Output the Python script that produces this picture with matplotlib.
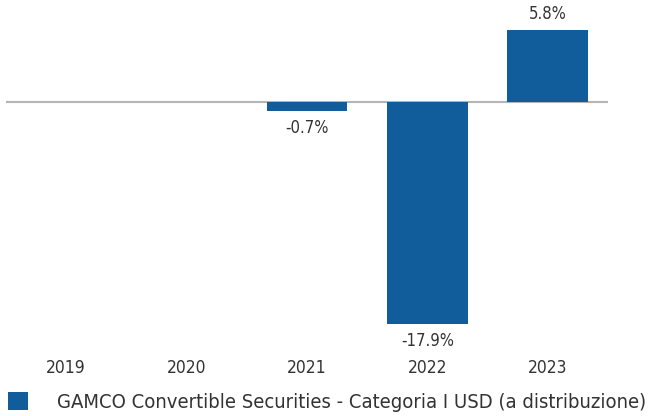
import matplotlib
matplotlib.use('Agg')
import matplotlib.pyplot as plt

years = ['2019', '2020', '2021', '2022', '2023']
returns = [None, None, -0.7, -17.9, 5.8]
labels = ['', '', '-0.7%', '-17.9%', '5.8%']
seriesName = 'GAMCO Convertible Securities - Categoria I USD (a distribuzione)'

barColor = '#115d9b'
textColor = '#333333'

plt.rcParams['font.family'] = ['DejaVu Sans']
plt.rcParams['font.stretch'] = 'condensed'

W, H = 649, 416
fig = plt.figure(figsize=(W/100, H/100), dpi=100)
ax = fig.add_axes([6/W, 1 - 358/H, 602/W, 358/H])

xs = [i for i, v in enumerate(returns) if v is not None]
vals = [v for v in returns if v is not None]
bars = ax.bar(xs, vals, width=0.67, color=barColor, label=seriesName, zorder=2)

for x, v, lab in zip(xs, vals, [labels[i] for i in xs]):
    if v >= 0:
        ax.annotate(lab, (x, v), xytext=(0, 5), textcoords='offset points',
                    ha='center', va='bottom', fontsize=12, color=textColor)
    else:
        ax.annotate(lab, (x, v), xytext=(0, -6), textcoords='offset points',
                    ha='center', va='top', fontsize=12, color=textColor)

ax.axhline(0, color='#b5b5b5', lw=1.5, zorder=1)
ax.set_xlim(-0.5, 4.5)
ax.set_ylim(-20.63, 8.22)
ax.set_xticks(range(len(years)))
ax.set_xticklabels(years, fontsize=12.5, color=textColor)
ax.tick_params(axis='x', length=0, pad=0.5)
ax.set_yticks([])
for s in ax.spines.values():
    s.set_visible(False)

fig.legend(handles=[bars], labels=[seriesName], loc='center left',
           bbox_to_anchor=(8/W, 1 - 402/H), frameon=False, fontsize=14.5,
           handlelength=1.0, handleheight=1.0, handletextpad=1.45,
           borderpad=0, borderaxespad=0, labelcolor=textColor)

fig.savefig('out.png', dpi=100)
